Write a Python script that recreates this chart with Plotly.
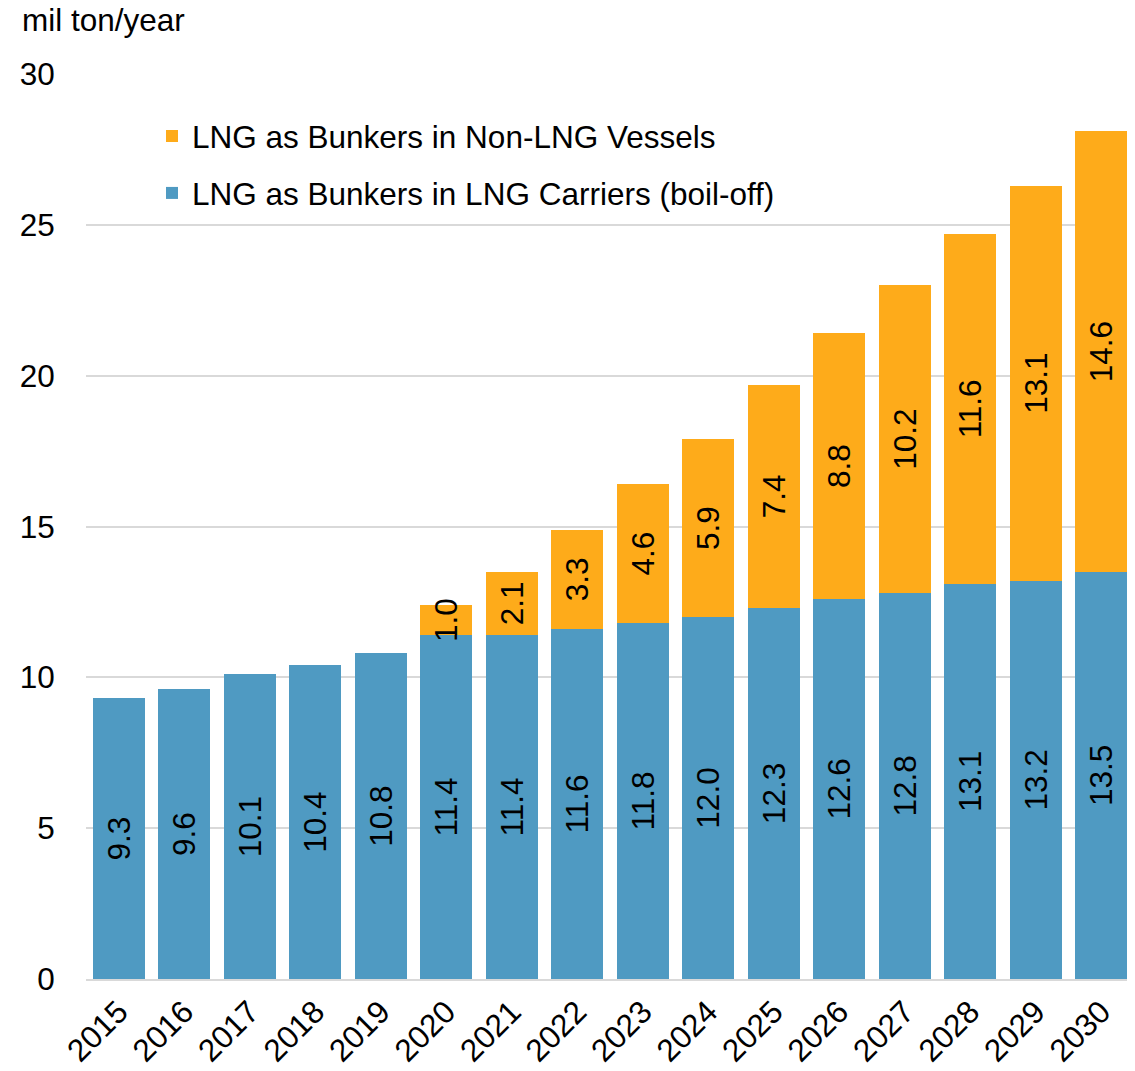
import plotly.graph_objects as go

years = [str(y) for y in range(2015, 2031)]
carriers = [9.3, 9.6, 10.1, 10.4, 10.8, 11.4, 11.4, 11.6, 11.8, 12.0, 12.3, 12.6, 12.8, 13.1, 13.2, 13.5]
non_lng = [None, None, None, None, None, 1.0, 2.1, 3.3, 4.6, 5.9, 7.4, 8.8, 10.2, 11.6, 13.1, 14.6]

BLUE = "#4F9AC2"
ORANGE = "#FEAB1A"
FONT = "Liberation Sans, Arial, sans-serif"
FS = 31.5

# page body has an 8px margin; figure placed at (8, 8)
OFF = 8
W, H = 1135 - OFF, 1071 - OFF
ML, MR, MT, MB = 86 - OFF, 1, 74 - OFF, 92
PW, PH = W - ML - MR, H - MT - MB

fig = go.Figure()
fig.add_trace(go.Bar(
    x=years, y=carriers, name="LNG as Bunkers in LNG Carriers (boil-off)",
    legendgroup="a", legendrank=2,
    marker=dict(color=BLUE, line=dict(width=0)),
    text=[f"{v:.1f}" for v in carriers], textposition="inside",
    textangle=-90, insidetextanchor="middle",
    textfont=dict(size=FS, color="black", family=FONT),
))
fig.add_trace(go.Bar(
    x=years, y=non_lng, name="LNG as Bunkers in Non-LNG Vessels",
    legendgroup="b", legendrank=1,
    marker=dict(color=ORANGE, line=dict(width=0)),
    text=[f"{v:.1f}" if v is not None else "" for v in non_lng], textposition="inside",
    textangle=-90, insidetextanchor="middle",
    textfont=dict(size=FS, color="black", family=FONT),
))

fig.update_layout(
    barmode="stack", bargap=0.2,
    width=W, height=H,
    margin=dict(l=ML, r=MR, t=MT, b=MB, autoexpand=False),
    paper_bgcolor="white", plot_bgcolor="white",
    font=dict(family=FONT, size=FS, color="black"),
    uniformtext=dict(minsize=FS, mode="show"),
    legend=dict(x=(152 - 86) / PW, y=1 - (117 - 74 - 8) / PH, xanchor="left", yanchor="top",
                traceorder="grouped", font=dict(size=FS), bgcolor="rgba(0,0,0,0)",
                tracegroupgap=13),
    annotations=[dict(text="mil ton/year", x=(20 - 86) / PW, y=1 + (74 - 20) / PH,
                      xref="paper", yref="paper", xanchor="left", yanchor="middle",
                      showarrow=False, font=dict(size=FS))],
)

fig.update_yaxes(range=[0, 30], dtick=5, showgrid=True, gridcolor="#D9D9D9", gridwidth=1.5,
                 zeroline=False, showline=False, ticks="outside", ticklen=24,
                 tickcolor="rgba(0,0,0,0)", tickfont=dict(size=FS), automargin=False)
fig.update_xaxes(tickangle=-45, showline=True, linecolor="#D9D9D9", linewidth=1.5,
                 ticks="", tickfont=dict(size=FS), automargin=False)

fig.write_html("out.html")
